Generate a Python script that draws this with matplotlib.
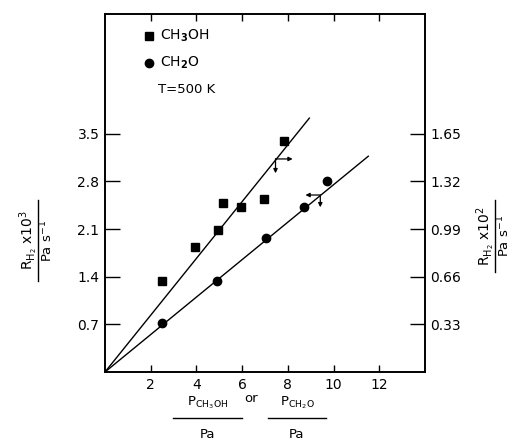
"""
Hydrogen formation rate vs. partial pressure of CH3OH / CH2O at 500 K
"""

import matplotlib
matplotlib.use("Agg")
import matplotlib.pyplot as plt
from matplotlib.lines import Line2D

plt.rcParams["font.family"] = "DejaVu Sans"
plt.rcParams["mathtext.default"] = "regular"

# ── Data ──────────────────────────────────────────────────────────────────────
ch3oh_p = [2.5, 3.95, 4.95, 5.15, 5.95, 6.95, 7.85]
ch3oh_r = [1.33, 1.84, 2.08, 2.48, 2.42, 2.54, 3.39]

ch2o_p = [2.5, 4.9, 7.05, 8.7, 9.7]
ch2o_r = [0.72, 1.34, 1.97, 2.42, 2.80]

# fitted lines through the origin (end points)
fit_ch3oh_x = [0, 8.94]
fit_ch3oh_y = [0, 3.73]
fit_ch2o_x = [0, 11.52]
fit_ch2o_y = [0, 3.17]

left_ticks = [0.7, 1.4, 2.1, 2.8, 3.5]
right_ticks = [0.33, 0.66, 0.99, 1.32, 1.65]
x_ticks = [2, 4, 6, 8, 10, 12]

SCALE = 0.33 / 0.7
YMAX = 5.26
K = "black"

# ── Canvas ────────────────────────────────────────────────────────────────────
fig = plt.figure(figsize=(5.15, 4.41), dpi=100, facecolor="white")
ax = fig.add_axes([0.2039, 0.1565, 0.6213, 0.8118])
ax.set_xlim(0, 14)
ax.set_ylim(0, YMAX)

ax.plot(fit_ch3oh_x, fit_ch3oh_y, color=K, lw=1.0)
ax.plot(fit_ch2o_x, fit_ch2o_y, color=K, lw=1.0)
ax.plot(ch3oh_p, ch3oh_r, "s", color=K, ms=5.5, zorder=4)
ax.plot(ch2o_p, ch2o_r, "o", color=K, ms=6, zorder=4)

# axis-indicator arrows on the fits
def corner(x, y, dx, dy):
    kw = dict(arrowstyle="-|>", color=K, lw=0.9, mutation_scale=6,
              shrinkA=0, shrinkB=0)
    ax.annotate("", xy=(x + dx, y), xytext=(x, y), arrowprops=kw)
    ax.annotate("", xy=(x, y + dy), xytext=(x, y), arrowprops=kw)

corner(7.46, 3.13, 0.75, -0.21)
corner(9.42, 2.60, -0.65, -0.18)

# ── Axes styling ──────────────────────────────────────────────────────────────
ax.set_xticks(x_ticks)
ax.set_xticklabels([str(t) for t in x_ticks], fontsize=10)
ax.set_yticks(left_ticks)
ax.set_yticklabels([f"{t:.1f}" for t in left_ticks], fontsize=10)
ax.tick_params(axis="x", direction="in", length=5, width=1.0,
               top=True, pad=4)
ax.tick_params(axis="y", direction="in", length=11, width=1.0, pad=4)
for s in ax.spines.values():
    s.set_linewidth(1.2)

ax2 = ax.twinx()
ax2.set_ylim(0, YMAX * SCALE)
ax2.set_yticks(right_ticks)
ax2.set_yticklabels([f"{t:.2f}" for t in right_ticks], fontsize=10)
ax2.tick_params(axis="y", direction="in", length=11, width=1.0, pad=4)
for s in ax2.spines.values():
    s.set_linewidth(1.2)

# ── Legend (hand placed) ──────────────────────────────────────────────────────
ax.plot([1.91], [4.94], "s", color=K, ms=5.5, clip_on=False)
ax.plot([1.91], [4.54], "o", color=K, ms=6, clip_on=False)
ax.text(2.4, 4.94, r"CH$_{\mathbf{3}}$OH", fontsize=10, va="center")
ax.text(2.4, 4.54, r"CH$_{\mathbf{2}}$O", fontsize=10, va="center")
ax.text(2.3, 4.15, "T=500 K", fontsize=9.5, va="center")

# ── Y labels (stacked fractions, rotated) ─────────────────────────────────────
def vfrac(xc, ytop, ybot, num, den):
    H = 441.0
    fig.add_artist(Line2D([xc / 515, xc / 515], [1 - ytop / H, 1 - ybot / H],
                          color=K, lw=1.0, transform=fig.transFigure))
    yc = 1 - (ytop + ybot) / 2 / H
    fig.text((xc - 9) / 515, yc, num, rotation=90, fontsize=10,
             ha="center", va="center")
    fig.text((xc + 9) / 515, yc, den, rotation=90, fontsize=9.5,
             ha="center", va="center")

vfrac(38, 200, 281, r"R$_{H_2}$ x10$^{3}$", r"Pa s$^{-1}$")
vfrac(495, 200, 272, r"R$_{H_2}$ x10$^{2}$", r"Pa s$^{-1}$")

# ── X label (two fractions) ───────────────────────────────────────────────────
def hfrac(x0, x1, num):
    H = 441.0
    fig.add_artist(Line2D([x0 / 515, x1 / 515], [1 - 418 / H, 1 - 418 / H],
                          color=K, lw=1.0, transform=fig.transFigure))
    xc = (x0 + x1) / 2 / 515
    fig.text(xc, 1 - 403 / H, num, fontsize=9.5, ha="center", va="center")
    fig.text(xc, 1 - 434 / H, "Pa", fontsize=9.5, ha="center", va="center")

hfrac(173, 242, r"P$_{CH_3OH}$")
hfrac(268, 326, r"P$_{CH_2O}$")
fig.text(251 / 515, 1 - 399 / 441, "or", fontsize=9.5, ha="center", va="center")

fig.savefig("out.png", dpi=100, facecolor="white")
